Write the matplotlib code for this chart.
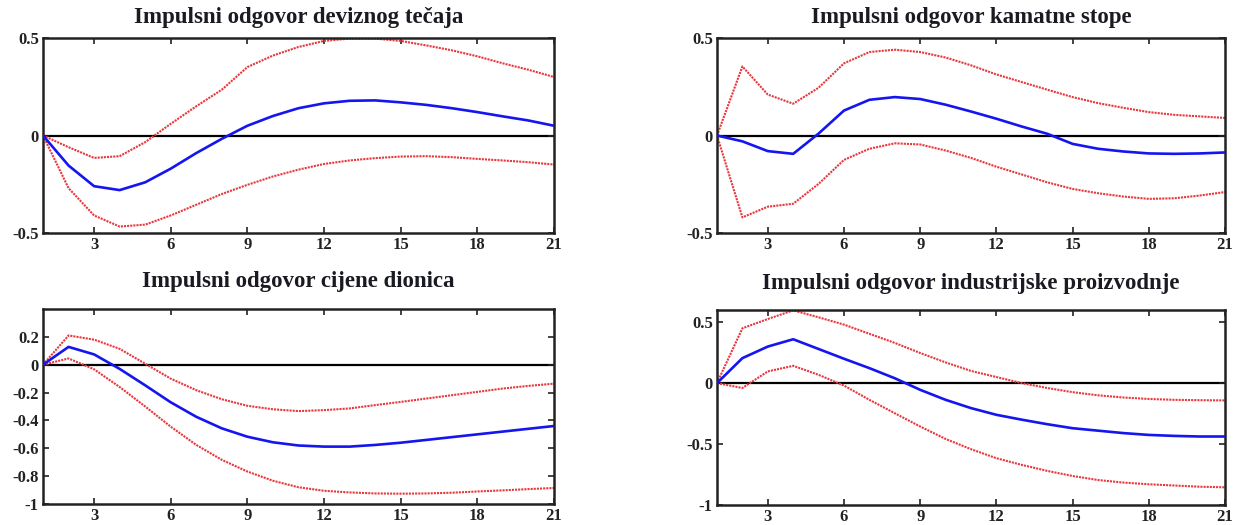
import numpy as np
import matplotlib
matplotlib.use('Agg')
import matplotlib.pyplot as plt

# horizon (periods after the shock)
periods = list(range(1, 22))

titles = ['Impulsni odgovor deviznog tečaja',
          'Impulsni odgovor kamatne stope',
          'Impulsni odgovor cijene dionica',
          'Impulsni odgovor industrijske proizvodnje']

# tecaj
fx_resp = [0, -0.154, -0.26, -0.28, -0.24, -0.17, -0.09, -0.017, 0.05, 0.10, 0.14,
           0.165, 0.178, 0.18, 0.17, 0.157, 0.14, 0.12, 0.098, 0.077, 0.05]
fx_upper = [0, -0.06, -0.115, -0.106, -0.034, 0.06, 0.15, 0.235, 0.351, 0.41, 0.454,
            0.485, 0.497, 0.497, 0.485, 0.462, 0.437, 0.406, 0.37, 0.337, 0.30]
fx_lower = [0, -0.27, -0.41, -0.467, -0.457, -0.41, -0.355, -0.30, -0.253, -0.21, -0.175,
            -0.146, -0.128, -0.116, -0.108, -0.106, -0.111, -0.12, -0.128, -0.137, -0.149]

# kamatna stopa
ir_resp = [0, -0.03, -0.08, -0.094, 0.01, 0.128, 0.183, 0.197, 0.187, 0.158, 0.123,
           0.086, 0.046, 0.009, -0.043, -0.068, -0.082, -0.092, -0.094, -0.092, -0.087]
ir_upper = [0, 0.354, 0.21, 0.163, 0.245, 0.37, 0.428, 0.44, 0.428, 0.40, 0.36,
            0.313, 0.274, 0.235, 0.197, 0.166, 0.142, 0.12, 0.106, 0.098, 0.09]
ir_lower = [0, -0.42, -0.365, -0.35, -0.248, -0.125, -0.068, -0.04, -0.046, -0.077, -0.115,
            -0.16, -0.20, -0.24, -0.274, -0.296, -0.313, -0.325, -0.322, -0.308, -0.29]

# cijene dionica
sp_resp = [0, 0.128, 0.074, -0.03, -0.148, -0.27, -0.374, -0.457, -0.517, -0.557, -0.58,
           -0.588, -0.588, -0.576, -0.56, -0.54, -0.52, -0.50, -0.48, -0.46, -0.44]
sp_upper = [0, 0.21, 0.18, 0.114, 0.007, -0.10, -0.183, -0.248, -0.295, -0.32, -0.333,
            -0.326, -0.314, -0.29, -0.267, -0.243, -0.219, -0.195, -0.171, -0.152, -0.136]
sp_lower = [0, 0.045, -0.033, -0.16, -0.30, -0.445, -0.576, -0.683, -0.767, -0.833, -0.88,
            -0.905, -0.917, -0.924, -0.926, -0.924, -0.919, -0.91, -0.902, -0.893, -0.885]

# industrijska proizvodnja
ip_resp = [0, 0.205, 0.30, 0.36, 0.28, 0.20, 0.123, 0.04, -0.055, -0.137, -0.205,
           -0.26, -0.30, -0.337, -0.37, -0.39, -0.41, -0.425, -0.433, -0.438, -0.438]
ip_upper = [0, 0.45, 0.526, 0.597, 0.54, 0.48, 0.405, 0.33, 0.247, 0.17, 0.10,
            0.05, 0.0, -0.04, -0.074, -0.10, -0.118, -0.13, -0.137, -0.14, -0.142]
ip_lower = [0, -0.04, 0.096, 0.142, 0.068, -0.02, -0.137, -0.247, -0.356, -0.458, -0.542,
            -0.616, -0.671, -0.72, -0.762, -0.795, -0.816, -0.83, -0.84, -0.85, -0.855]

panels = [(fx_resp, fx_upper, fx_lower), (ir_resp, ir_upper, ir_lower),
          (sp_resp, sp_upper, sp_lower), (ip_resp, ip_upper, ip_lower)]
ylims = [(-0.5, 0.5), (-0.5, 0.5), (-1, 0.4), (-1, 0.6)]
yticks = [[-0.5, 0, 0.5], [-0.5, 0, 0.5],
          [-1, -0.8, -0.6, -0.4, -0.2, 0, 0.2], [-1, -0.5, 0, 0.5]]
ylabels = [['-0.5', '0', '0.5'], ['-0.5', '0', '0.5'],
           ['-1', '-0.8', '-0.6', '-0.4', '-0.2', '0', '0.2'], ['-1', '-0.5', '0', '0.5']]

W, H = 1240, 525
fig = plt.figure(figsize=(12.4, 5.25), dpi=100)

# axes boxes in pixels: left, top, right, bottom
boxes = [(43, 38, 554, 233), (717, 38, 1225, 233),
         (43, 309, 554, 504), (717, 310, 1225, 505)]
title_y = [17, 17, 282, 283]

tick_font = dict(family='Liberation Serif', weight='bold', size=12)

for i, (resp, up, lo) in enumerate(panels):
    l, t, r, b = boxes[i]
    ax = fig.add_axes([l / W, 1 - b / H, (r - l) / W, (b - t) / H])
    ax.axhline(0, color='black', lw=1.6, zorder=1)
    ax.plot(periods, up, color='#e8383d', lw=1.5, ls=(0, (1, 0.5)), zorder=2)
    ax.plot(periods, lo, color='#e8383d', lw=1.5, ls=(0, (1, 0.5)), zorder=2)
    ax.plot(periods, resp, color='#1515f0', lw=1.9, zorder=3)
    ax.set_xlim(1, 21)
    ax.set_ylim(*ylims[i])
    ax.set_xticks(range(3, 22, 3))
    ax.set_xticklabels([str(v) for v in range(3, 22, 3)], fontdict=tick_font)
    ax.set_yticks(yticks[i])
    ax.set_yticklabels(ylabels[i], fontdict=tick_font)
    ax.tick_params(direction='in', top=True, right=True, length=4, width=1.2,
                   pad=3, colors='#222222')
    for s in ax.spines.values():
        s.set_linewidth(1.8)
        s.set_color('#222222')
    cx = (l + r) / 2 / W
    fig.text(cx, 1 - title_y[i] / H, titles[i], ha='center', va='center',
             family='Liberation Serif', weight='bold', size=16.5, color='#1a1a22')

fig.savefig('out.png', dpi=100, facecolor='white')
